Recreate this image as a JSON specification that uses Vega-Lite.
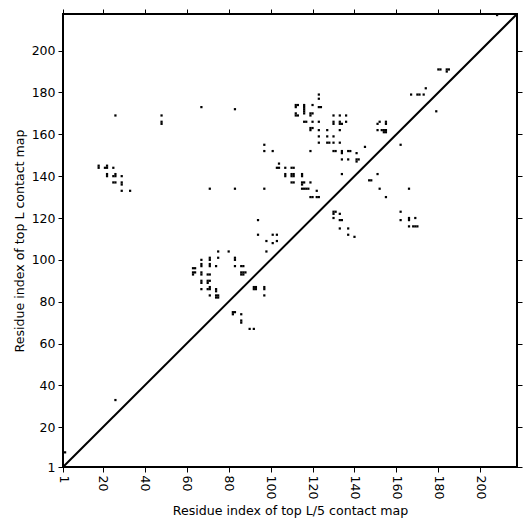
{
  "$schema": "https://vega.github.io/schema/vega-lite/v6.json",
  "width": 454,
  "height": 453,
  "autosize": {"type": "none"},
  "padding": {"left": 63, "top": 14, "right": 14, "bottom": 64},
  "background": "white",
  "config": {
    "view": {"stroke": "black", "strokeWidth": 2},
    "axis": {
      "domain": false,
      "grid": false,
      "ticks": true,
      "tickSize": 5,
      "tickWidth": 1,
      "tickColor": "black",
      "labelFont": "DejaVu Sans",
      "labelFontSize": 12.5,
      "labelColor": "black",
      "titleFont": "DejaVu Sans",
      "titleFontSize": 12.6,
      "titleFontWeight": "normal",
      "titleColor": "black"
    }
  },
  "resolve": {"axis": {"x": "independent", "y": "independent"}},
  "layer": [
    {
      "data": {
        "values": [
          {"i": 2, "j": 8}, {"i": 26, "j": 33},
          {"i": 18, "j": 145}, {"i": 18, "j": 144}, {"i": 21, "j": 144}, {"i": 22, "j": 144}, {"i": 22, "j": 145}, {"i": 25, "j": 144},
          {"i": 22, "j": 141}, {"i": 22, "j": 140}, {"i": 25, "j": 140}, {"i": 26, "j": 140}, {"i": 26, "j": 141}, {"i": 29, "j": 140},
          {"i": 25, "j": 137}, {"i": 26, "j": 137}, {"i": 29, "j": 137}, {"i": 29, "j": 136}, {"i": 29, "j": 133}, {"i": 33, "j": 133},
          {"i": 26, "j": 169}, {"i": 48, "j": 169}, {"i": 48, "j": 166}, {"i": 48, "j": 165}, {"i": 67, "j": 173}, {"i": 83, "j": 172},
          {"i": 71, "j": 134}, {"i": 83, "j": 134}, {"i": 97, "j": 134},
          {"i": 75, "j": 104}, {"i": 80, "j": 104}, {"i": 98, "j": 104},
          {"i": 67, "j": 100}, {"i": 71, "j": 101}, {"i": 71, "j": 100}, {"i": 75, "j": 101}, {"i": 83, "j": 101}, {"i": 83, "j": 100},
          {"i": 63, "j": 96}, {"i": 64, "j": 96}, {"i": 67, "j": 98}, {"i": 67, "j": 97}, {"i": 71, "j": 98}, {"i": 71, "j": 97},
          {"i": 74, "j": 97}, {"i": 83, "j": 97}, {"i": 86, "j": 97}, {"i": 87, "j": 97},
          {"i": 86, "j": 94}, {"i": 87, "j": 94}, {"i": 88, "j": 94}, {"i": 86, "j": 93}, {"i": 87, "j": 93},
          {"i": 63, "j": 94}, {"i": 64, "j": 94}, {"i": 63, "j": 93}, {"i": 67, "j": 94}, {"i": 67, "j": 93}, {"i": 70, "j": 93}, {"i": 71, "j": 93},
          {"i": 67, "j": 90}, {"i": 67, "j": 89}, {"i": 70, "j": 90}, {"i": 71, "j": 90}, {"i": 70, "j": 89},
          {"i": 67, "j": 86}, {"i": 71, "j": 87}, {"i": 70, "j": 86}, {"i": 71, "j": 86}, {"i": 74, "j": 86}, {"i": 74, "j": 85}, {"i": 71, "j": 83},
          {"i": 74, "j": 83}, {"i": 75, "j": 83}, {"i": 74, "j": 82}, {"i": 75, "j": 82},
          {"i": 92, "j": 87}, {"i": 93, "j": 87}, {"i": 92, "j": 86}, {"i": 93, "j": 86}, {"i": 97, "j": 87}, {"i": 97, "j": 86}, {"i": 97, "j": 83},
          {"i": 82, "j": 75}, {"i": 83, "j": 75}, {"i": 82, "j": 74}, {"i": 86, "j": 74}, {"i": 86, "j": 71}, {"i": 86, "j": 70}, {"i": 90, "j": 67}, {"i": 92, "j": 67},
          {"i": 94, "j": 119}, {"i": 94, "j": 112}, {"i": 101, "j": 112}, {"i": 103, "j": 112}, {"i": 98, "j": 109}, {"i": 101, "j": 108}, {"i": 103, "j": 109},
          {"i": 97, "j": 155}, {"i": 97, "j": 152}, {"i": 101, "j": 152}, {"i": 104, "j": 146}, {"i": 103, "j": 144}, {"i": 104, "j": 144},
          {"i": 123, "j": 179}, {"i": 123, "j": 177},
          {"i": 112, "j": 174}, {"i": 113, "j": 174}, {"i": 112, "j": 173}, {"i": 116, "j": 174}, {"i": 116, "j": 173}, {"i": 116, "j": 172},
          {"i": 116, "j": 171}, {"i": 116, "j": 170}, {"i": 120, "j": 174}, {"i": 123, "j": 173}, {"i": 124, "j": 173},
          {"i": 112, "j": 170}, {"i": 112, "j": 169}, {"i": 113, "j": 169}, {"i": 119, "j": 170}, {"i": 120, "j": 170}, {"i": 119, "j": 169},
          {"i": 116, "j": 166}, {"i": 117, "j": 166}, {"i": 120, "j": 166}, {"i": 123, "j": 166},
          {"i": 119, "j": 163}, {"i": 120, "j": 163}, {"i": 119, "j": 162}, {"i": 123, "j": 162}, {"i": 127, "j": 162},
          {"i": 130, "j": 169}, {"i": 133, "j": 169}, {"i": 136, "j": 169},
          {"i": 130, "j": 166}, {"i": 130, "j": 165}, {"i": 133, "j": 166}, {"i": 133, "j": 165}, {"i": 134, "j": 165}, {"i": 136, "j": 166},
          {"i": 133, "j": 162},
          {"i": 123, "j": 159}, {"i": 127, "j": 159}, {"i": 130, "j": 159},
          {"i": 123, "j": 156}, {"i": 127, "j": 156}, {"i": 128, "j": 156}, {"i": 130, "j": 156}, {"i": 133, "j": 156},
          {"i": 119, "j": 152},
          {"i": 130, "j": 152}, {"i": 131, "j": 152}, {"i": 134, "j": 152}, {"i": 134, "j": 151}, {"i": 137, "j": 152}, {"i": 138, "j": 152}, {"i": 141, "j": 151},
          {"i": 134, "j": 148}, {"i": 137, "j": 148}, {"i": 141, "j": 148}, {"i": 142, "j": 148}, {"i": 141, "j": 147},
          {"i": 145, "j": 154},
          {"i": 107, "j": 144}, {"i": 110, "j": 144}, {"i": 111, "j": 144},
          {"i": 107, "j": 141}, {"i": 107, "j": 140}, {"i": 110, "j": 141}, {"i": 111, "j": 141}, {"i": 110, "j": 140}, {"i": 111, "j": 140}, {"i": 115, "j": 141}, {"i": 115, "j": 140},
          {"i": 110, "j": 137}, {"i": 111, "j": 137}, {"i": 115, "j": 137}, {"i": 116, "j": 137}, {"i": 119, "j": 137}, {"i": 115, "j": 136},
          {"i": 115, "j": 134}, {"i": 116, "j": 134}, {"i": 117, "j": 134}, {"i": 118, "j": 134}, {"i": 122, "j": 133},
          {"i": 119, "j": 130}, {"i": 120, "j": 130}, {"i": 122, "j": 130}, {"i": 123, "j": 130},
          {"i": 134, "j": 141},
          {"i": 130, "j": 123}, {"i": 130, "j": 122}, {"i": 131, "j": 123}, {"i": 133, "j": 122}, {"i": 130, "j": 120}, {"i": 133, "j": 119}, {"i": 134, "j": 119},
          {"i": 133, "j": 115}, {"i": 137, "j": 115}, {"i": 137, "j": 112}, {"i": 140, "j": 111},
          {"i": 152, "j": 166}, {"i": 155, "j": 166}, {"i": 155, "j": 165}, {"i": 151, "j": 165},
          {"i": 151, "j": 162}, {"i": 153, "j": 162}, {"i": 154, "j": 162}, {"i": 155, "j": 162}, {"i": 154, "j": 161}, {"i": 155, "j": 161},
          {"i": 162, "j": 155}, {"i": 151, "j": 141}, {"i": 147, "j": 138}, {"i": 148, "j": 138}, {"i": 152, "j": 134}, {"i": 155, "j": 130}, {"i": 166, "j": 134},
          {"i": 162, "j": 123}, {"i": 162, "j": 119}, {"i": 166, "j": 119}, {"i": 166, "j": 120}, {"i": 169, "j": 120},
          {"i": 166, "j": 116}, {"i": 168, "j": 116}, {"i": 169, "j": 116}, {"i": 170, "j": 116},
          {"i": 167, "j": 179}, {"i": 170, "j": 179}, {"i": 171, "j": 179}, {"i": 173, "j": 179}, {"i": 174, "j": 182}, {"i": 179, "j": 171},
          {"i": 180, "j": 191}, {"i": 181, "j": 191}, {"i": 184, "j": 191}, {"i": 185, "j": 191}, {"i": 184, "j": 190},
          {"i": 208, "j": 217}
        ]
      },
      "mark": {"type": "square", "size": 5, "color": "black", "filled": true, "opacity": 1, "strokeWidth": 0},
      "encoding": {
        "x": {
          "field": "i", "type": "quantitative",
          "scale": {"domain": [1, 217.5], "nice": false, "zero": false},
          "axis": {
            "orient": "bottom",
            "title": "Residue index of top L/5 contact map",
            "values": [1, 20, 40, 60, 80, 100, 120, 140, 160, 180, 200],
            "labelAngle": 90,
            "labelPadding": 3,
            "titlePadding": 6
          }
        },
        "y": {
          "field": "j", "type": "quantitative",
          "scale": {"domain": [1, 217.5], "nice": false, "zero": false},
          "axis": {
            "orient": "left",
            "title": "Residue index of top L contact map",
            "values": [1, 20, 40, 60, 80, 100, 120, 140, 160, 180, 200],
            "labelPadding": 3,
            "titlePadding": 5
          }
        }
      }
    },
    {
      "data": {"values": [{"i": 1, "j": 1}, {"i": 217.5, "j": 217.5}]},
      "mark": {"type": "line", "color": "black", "strokeWidth": 2},
      "encoding": {
        "x": {
          "field": "i", "type": "quantitative",
          "axis": {"orient": "top", "title": null, "labels": false, "values": [1, 20, 40, 60, 80, 100, 120, 140, 160, 180, 200]}
        },
        "y": {
          "field": "j", "type": "quantitative",
          "axis": {"orient": "right", "title": null, "labels": false, "values": [1, 20, 40, 60, 80, 100, 120, 140, 160, 180, 200]}
        }
      }
    }
  ]
}
